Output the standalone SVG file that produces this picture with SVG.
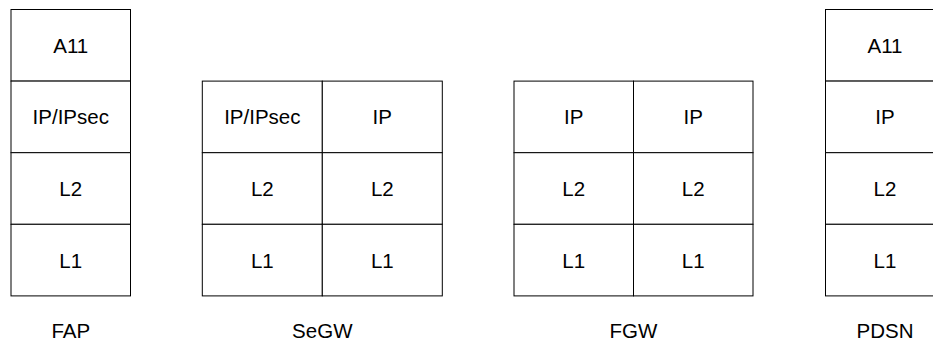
<svg xmlns="http://www.w3.org/2000/svg" width="933" height="343" viewBox="0 0 933 343">
  <style>
    .cell { fill: #ffffff; stroke: #000000; stroke-width: 1; }
    .lbl { font-family: "Liberation Sans", Arial, sans-serif; font-size: 20.5px; fill: #000000; text-anchor: middle; }
  </style>
  <rect width="933" height="343" fill="#ffffff"/>

  <!-- FAP protocol stack -->
  <g id="fap">
    <rect class="cell" x="11" y="9.5" width="119.5" height="71.6"/>
    <rect class="cell" x="11" y="81.1" width="119.5" height="71.6"/>
    <rect class="cell" x="11" y="152.7" width="119.5" height="71.6"/>
    <rect class="cell" x="11" y="224.3" width="119.5" height="71.6"/>
    <text class="lbl" x="70.75" y="52.8">A11</text>
    <text class="lbl" x="70.75" y="124.4">IP/IPsec</text>
    <text class="lbl" x="70.75" y="196">L2</text>
    <text class="lbl" x="70.75" y="267.6">L1</text>
    <text class="lbl" x="70.75" y="338">FAP</text>
  </g>

  <!-- SeGW protocol stack -->
  <g id="segw">
    <rect class="cell" x="202.3" y="81.1" width="120" height="71.6"/>
    <rect class="cell" x="322.3" y="81.1" width="120" height="71.6"/>
    <rect class="cell" x="202.3" y="152.7" width="120" height="71.6"/>
    <rect class="cell" x="322.3" y="152.7" width="120" height="71.6"/>
    <rect class="cell" x="202.3" y="224.3" width="120" height="71.6"/>
    <rect class="cell" x="322.3" y="224.3" width="120" height="71.6"/>
    <text class="lbl" x="262.3" y="124.4">IP/IPsec</text>
    <text class="lbl" x="382.3" y="124.4">IP</text>
    <text class="lbl" x="262.3" y="196">L2</text>
    <text class="lbl" x="382.3" y="196">L2</text>
    <text class="lbl" x="262.3" y="267.6">L1</text>
    <text class="lbl" x="382.3" y="267.6">L1</text>
    <text class="lbl" x="322.3" y="338">SeGW</text>
  </g>

  <!-- FGW protocol stack -->
  <g id="fgw">
    <rect class="cell" x="514" y="81.1" width="119.5" height="71.6"/>
    <rect class="cell" x="633.5" y="81.1" width="119.5" height="71.6"/>
    <rect class="cell" x="514" y="152.7" width="119.5" height="71.6"/>
    <rect class="cell" x="633.5" y="152.7" width="119.5" height="71.6"/>
    <rect class="cell" x="514" y="224.3" width="119.5" height="71.6"/>
    <rect class="cell" x="633.5" y="224.3" width="119.5" height="71.6"/>
    <text class="lbl" x="573.75" y="124.4">IP</text>
    <text class="lbl" x="693.25" y="124.4">IP</text>
    <text class="lbl" x="573.75" y="196">L2</text>
    <text class="lbl" x="693.25" y="196">L2</text>
    <text class="lbl" x="573.75" y="267.6">L1</text>
    <text class="lbl" x="693.25" y="267.6">L1</text>
    <text class="lbl" x="633.5" y="338">FGW</text>
  </g>

  <!-- PDSN protocol stack -->
  <g id="pdsn">
    <rect class="cell" x="825.5" y="9.5" width="119" height="71.6"/>
    <rect class="cell" x="825.5" y="81.1" width="119" height="71.6"/>
    <rect class="cell" x="825.5" y="152.7" width="119" height="71.6"/>
    <rect class="cell" x="825.5" y="224.3" width="119" height="71.6"/>
    <text class="lbl" x="885" y="52.8">A11</text>
    <text class="lbl" x="885" y="124.4">IP</text>
    <text class="lbl" x="885" y="196">L2</text>
    <text class="lbl" x="885" y="267.6">L1</text>
    <text class="lbl" x="885" y="338">PDSN</text>
  </g>

  <g id="connectors"></g>
</svg>
